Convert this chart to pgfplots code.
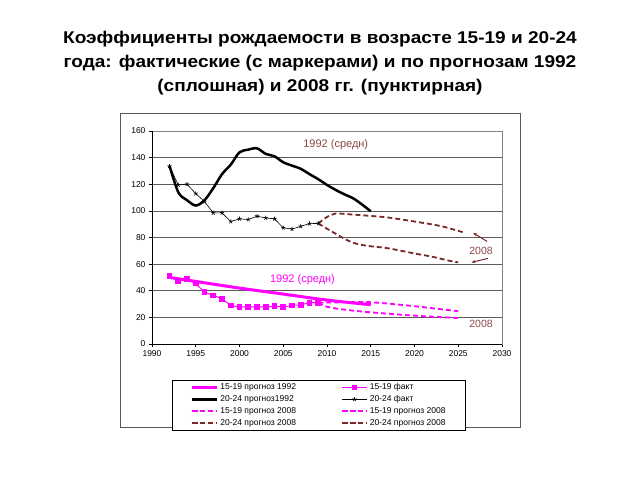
\documentclass[border=0pt]{standalone}
\usepackage{pgfplots}
\pgfplotsset{compat=1.18}
\usepackage{fontspec}
\setmainfont{Liberation Sans}
\newfontfamily\titlefont{Liberation Sans}[FakeStretch=1.12]
\usetikzlibrary{arrows.meta}
\definecolor{mag}{RGB}{255,0,255}
\definecolor{brn}{RGB}{120,40,40}
\definecolor{brtxt}{RGB}{140,70,70}
\definecolor{grd}{RGB}{90,90,90}
\begin{document}
\begin{tikzpicture}[x=1pt,y=1pt]
\path[use as bounding box] (0,0) rectangle (640,480);
\node[font=\titlefont\bfseries\fontsize{17}{24}\selectfont, align=center] at (320,417) {Коэффициенты рождаемости в возрасте 15-19 и 20-24\\года: фактические (с маркерами) и по прогнозам 1992\\(сплошная) и 2008 гг. (пунктирная)};
\draw[gray!70!black, line width=0.8] (120.7,52.3) rectangle (520.7,366.7);
\begin{axis}[at={(152pt,136pt)}, anchor=south west, width=350pt, height=213pt, scale only axis,
 xmin=1990, xmax=2030, ymin=0, ymax=160,
 xtick={1990,1995,...,2030}, ytick={0,20,...,160},
 ymajorgrids, grid style={grd, line width=0.7},
 axis line style={gray, line width=0.8},
 tick align=outside, major tick length=3pt, tick style={black, line width=0.6},
 xtick pos=bottom, ytick pos=left,
 ticklabel style={font=\fontsize{8.5}{10}\selectfont},
 /pgf/number format/assume math mode=true,
 x tick label style={/pgf/number format/1000 sep={}},
 legend columns=2,
 legend style={at={(0.057,-0.167)}, anchor=north west, draw=black, line width=0.8, font=\fontsize{8.5}{9.5}\selectfont, row sep=0.4pt, inner xsep=18pt, inner ysep=1.5pt},
 legend cell align=left,
 /tikz/every even column/.append style={column sep=43pt},
 legend image code/.code={\draw[mark repeat=2,mark phase=2,#1] plot coordinates {(0pt,0pt) (12.5pt,0pt) (25pt,0pt)};},
]
\addplot[mag, line width=3pt, smooth] coordinates {(1992,50) (1995,47) (2000,42) (2005,37.5) (2010,33) (2015,29.5)};
\addlegendentry{15-19 прогноз 1992}
\addplot[mag, line width=1pt, mark=square*, mark size=2.3pt] coordinates {(1992,51) (1993,47.3) (1994,49) (1995,45.3) (1996,39) (1997,36.5) (1998,34) (1999,29) (2000,27.8) (2001,27.8) (2002,27.8) (2003,27.8) (2004,28.4) (2005,27.8) (2006,29) (2007,29.4) (2008,31) (2009,31)};
\addlegendentry{15-19 факт}
\addplot[black, line width=2.5pt, smooth] coordinates {(1992,134) (1993,114) (1994,108) (1995,104) (1996,108) (1997,117) (1998,127.6) (1999,134.7) (2000,144) (2001,146) (2002,147) (2003,142.8) (2004,141) (2005,136.5) (2006,134) (2007,131.6) (2008,127.6) (2009,123.8) (2010,119.5) (2011,115.7) (2012,112.4) (2013,109.4) (2014,104.8) (2015,99.7)};
\addlegendentry{20-24 прогноз1992}
\addplot[black, line width=0.6pt, mark=star, mark size=2.2pt] coordinates {(1992,133.5) (1993,119.5) (1994,120) (1995,113) (1996,107) (1997,98.5) (1998,98.5) (1999,92) (2000,94) (2001,93.5) (2002,96) (2003,94.7) (2004,94) (2005,87.3) (2006,86.3) (2007,88.4) (2008,90.4) (2009,90.6)};
\addlegendentry{20-24 факт}
\addplot[mag, line width=1.8pt, dash pattern=on 5pt off 3pt, smooth] coordinates {(2009,31) (2012,31.3) (2015,31.4) (2020,28.4) (2025,24.6)};
\addlegendentry{15-19 прогноз 2008}
\addplot[mag, line width=1.8pt, dash pattern=on 5pt off 3pt, smooth] coordinates {(2009,31) (2010,28) (2012,25.8) (2015,23.8) (2020,21.3) (2025,19.5)};
\addlegendentry{15-19 прогноз 2008}
\addplot[brn, line width=1.8pt, dash pattern=on 5pt off 3pt, smooth] coordinates {(2009,90.6) (2010,95.4) (2011,98) (2012,97.7) (2015,96.2) (2017,95) (2020,92) (2023,88.6) (2025.5,84)};
\addlegendentry{20-24 прогноз 2008}
\addplot[brn, line width=1.8pt, dash pattern=on 5pt off 3pt, smooth] coordinates {(2009,90.6) (2010,86.6) (2011,82.8) (2012,79) (2013,76) (2014,74.4) (2015,73.4) (2017,71.9) (2020,68) (2022,65.6) (2024,62.5) (2025,61.3)};
\addlegendentry{20-24 прогноз 2008}
\node[brtxt, font=\fontsize{11}{13}\selectfont] at (axis cs:2011,149.5) {1992 (средн)};
\node[mag, font=\fontsize{11}{13}\selectfont] at (axis cs:2007.2,48.3) {1992 (средн)};
\node[brtxt, font=\fontsize{10.5}{12}\selectfont] at (axis cs:2027.6,70) {2008};
\node[brtxt, font=\fontsize{10.5}{12}\selectfont] at (axis cs:2027.6,15) {2008};
\draw[brn, line width=1pt, -{Stealth[length=4pt]}] (axis cs:2028.3,77) -- (axis cs:2026.7,83.5);
\draw[brn, line width=1pt, -{Stealth[length=4pt]}] (axis cs:2028.4,64.3) -- (axis cs:2026.5,61.3);
\draw[black, line width=0.8pt] (rel axis cs:0,1) -- (rel axis cs:0,0) -- (rel axis cs:1,0);
\end{axis}
\end{tikzpicture}
\end{document}
